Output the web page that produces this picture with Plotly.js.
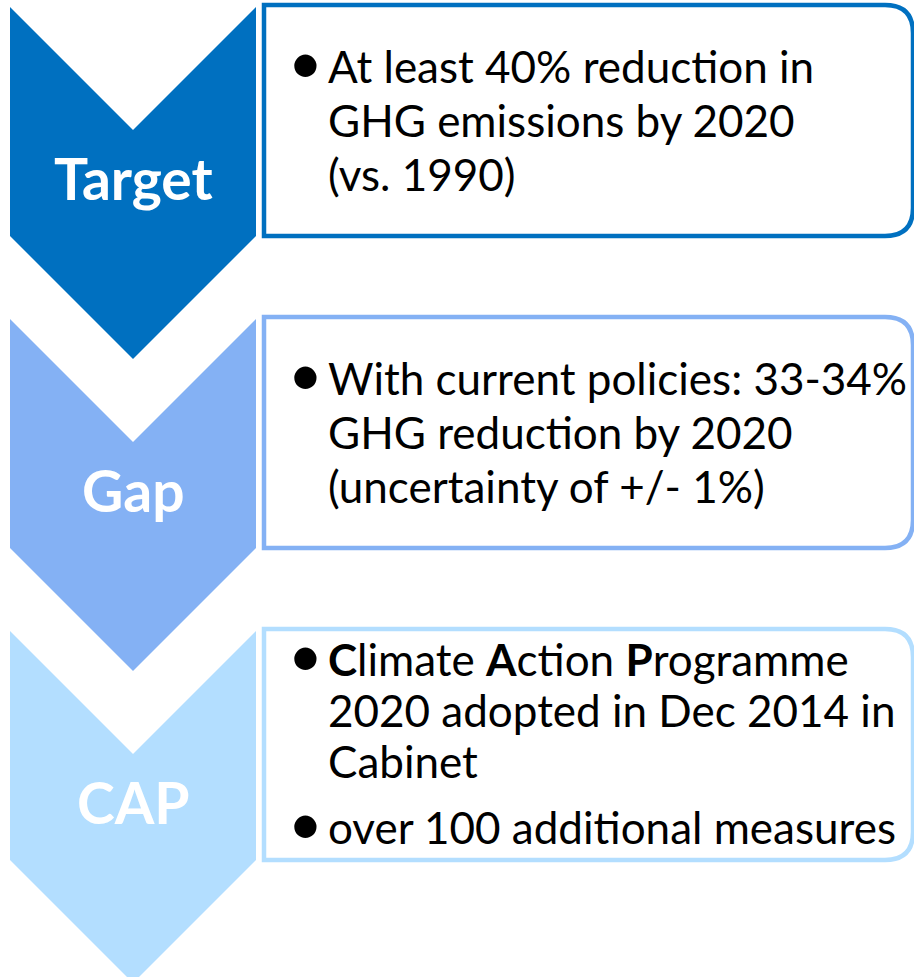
<!DOCTYPE html>
<html><head><meta charset="utf-8">
<script src="https://cdn.plot.ly/plotly-3.0.1.min.js"></script>
<style>html,body{margin:0;padding:0;background:#fff;}#chart{width:914px;height:977px;}</style>
</head><body><div id="chart"></div>
<script>
// Stage data
const stages = ["Target", "Gap", "CAP"];
const stageColors = ["#0070C0", "#84B1F4", "#B3DEFF"];
const stageTop = [7, 319, 631];           // top of each chevron / box
const bulletLines = [
  [["At least 40% reduction in", true], ["GHG emissions by 2020", false], ["(vs. 1990)", false]],
  [["With current policies: 33-34%", true], ["GHG reduction by 2020", false], ["(uncertainty of +/- 1%)", false]],
  [["<b>C</b>limate <b>A</b>ction <b>P</b>rogramme", true], ["2020 adopted in Dec 2014 in", false], ["Cabinet", false], ["over 100 additional measures", true]]
];
// cap-centre offsets of each text line from the stage top
const lineOffsets = [[60.5, 114.5, 168.5], [60.5, 114.5, 168.5], [30, 80.5, 132, 198]];

// geometry (layout constants)
const CX0 = 10, CX1 = 256, HALF = 123, BODY = 229;
const BX0 = 264, BX1 = 913, BH = 231, R = 28;
const font = "Lato, 'Open Sans', sans-serif";
const TS = 44;

const shapes = [], annotations = [];
stages.forEach((s, i) => {
  const t = stageTop[i];
  const mid = (CX0 + CX1) / 2;
  shapes.push({
    type: "path", xref: "x", yref: "y", layer: "below",
    path: `M${CX0},${t} L${mid},${t + HALF} L${CX1},${t} L${CX1},${t + BODY} L${mid},${t + BODY + HALF} L${CX0},${t + BODY} Z`,
    fillcolor: stageColors[i], line: {width: 0}
  });
  const bt = t - 2, bb = bt + BH;
  shapes.push({
    type: "path", xref: "x", yref: "y",
    path: `M${BX0},${bt} L${BX1 - R},${bt} Q${BX1},${bt} ${BX1},${bt + R} L${BX1},${bb - R} Q${BX1},${bb} ${BX1 - R},${bb} L${BX0},${bb} Z`,
    fillcolor: "#ffffff", line: {color: stageColors[i], width: 4.5}
  });
  annotations.push({
    x: mid, y: t + 171, xref: "x", yref: "y", text: "<b>" + s + "</b>", showarrow: false,
    font: {family: font, size: 57, color: "#ffffff"}, xanchor: "center", yanchor: "middle"
  });
  bulletLines[i].forEach((ln, j) => {
    const y = t + lineOffsets[i][j] - 2;
    if (ln[1]) annotations.push({
      x: 305, y: y - 5, xref: "x", yref: "y", text: "•", showarrow: false,
      font: {family: font, size: 60, color: "#000"}, xanchor: "center", yanchor: "middle"
    });
    annotations.push({
      x: 326, y: y, xref: "x", yref: "y", text: ln[0], showarrow: false,
      font: {family: font, size: TS, color: "#000"}, xanchor: "left", yanchor: "middle"
    });
  });
});

Plotly.newPlot("chart", [], {
  width: 914, height: 977,
  margin: {l: 0, r: 0, t: 0, b: 0},
  paper_bgcolor: "#fff", plot_bgcolor: "#fff",
  xaxis: {range: [0, 914], visible: false, fixedrange: true},
  yaxis: {range: [977, 0], visible: false, fixedrange: true},
  shapes: shapes, annotations: annotations, showlegend: false
}, {staticPlot: true});
</script></body></html>
